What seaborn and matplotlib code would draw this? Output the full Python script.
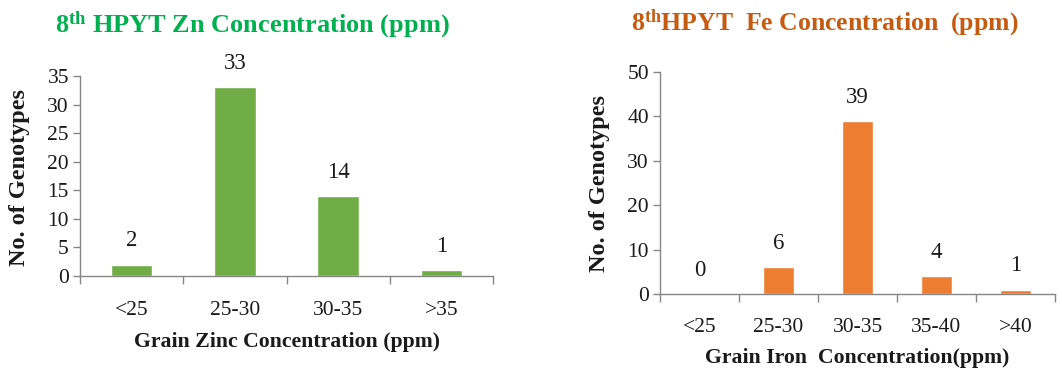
import matplotlib
matplotlib.use("Agg")
import matplotlib.pyplot as plt
from matplotlib.ticker import FixedLocator, NullFormatter
import seaborn as sns
import pandas as pd

zn_categories = ["<25", "25-30", "30-35", ">35"]
zn_counts = [2, 33, 14, 1]
fe_categories = ["<25", "25-30", "30-35", "35-40", ">40"]
fe_counts = [0, 6, 39, 4, 1]

zn_title = r"$\mathbf{8^{th}}$ HPYT Zn Concentration (ppm)"
fe_title = r"$\mathbf{8^{th}}$HPYT  Fe Concentration  (ppm)"
zn_xlabel = "Grain Zinc Concentration (ppm)"
fe_xlabel = "Grain Iron  Concentration(ppm)"
ylabel = "No. of Genotypes"

sns.set_style("white")
plt.rcParams["font.family"] = ["Liberation Serif", "DejaVu Serif"]
plt.rcParams["mathtext.fontset"] = "custom"
plt.rcParams["mathtext.rm"] = "Liberation Serif"
plt.rcParams["mathtext.bf"] = "Liberation Serif:bold"
plt.rcParams["mathtext.it"] = "Liberation Serif:italic"

W, H = 1062, 372
fig = plt.figure(figsize=(W / 100, H / 100), dpi=100)

axis_color = "#868686"
text_color = "#1a1a1a"


def panel(rect, cats, vals, color, ymax, ystep, title, title_color, title_size,
          title_xy, xlabel, xlabel_xy, ylabel_xy, ticklabel_pad):
    ax = fig.add_axes(rect)
    df = pd.DataFrame({"cat": cats, "val": vals})
    sns.barplot(data=df, x="cat", y="val", color=color, width=0.4,
                saturation=1, ax=ax, order=cats)
    n = len(cats)
    ax.set_xlim(-0.5, n - 0.5)
    ax.set_ylim(0, ymax)
    ax.set_yticks(range(0, ymax + 1, ystep))
    ax.set_xlabel("")
    ax.set_ylabel("")
    for s in ["top", "right"]:
        ax.spines[s].set_visible(False)
    for s in ["left", "bottom"]:
        ax.spines[s].set_color(axis_color)
        ax.spines[s].set_linewidth(1.0)
    ax.xaxis.set_minor_locator(FixedLocator([i - 0.5 for i in range(n + 1)]))
    ax.xaxis.set_minor_formatter(NullFormatter())
    ax.tick_params(axis="x", which="major", length=0, pad=ticklabel_pad,
                   labelsize=15.5, labelcolor=text_color)
    ax.tick_params(axis="x", which="minor", length=6, width=1,
                   color=axis_color, direction="out", bottom=True)
    ax.tick_params(axis="y", which="major", length=5, width=1,
                   color=axis_color, direction="out", left=True,
                   labelsize=15.5, labelcolor=text_color, pad=3)
    for p, v in zip(ax.patches, vals):
        ax.annotate(str(v), (p.get_x() + p.get_width() / 2, v),
                    xytext=(0, 17), textcoords="offset points",
                    ha="center", va="center", fontsize=16.5, color=text_color)
    fig.text(title_xy[0] / W, 1 - title_xy[1] / H, title, ha="center",
             va="center", fontsize=title_size, fontweight="bold",
             color=title_color)
    fig.text(xlabel_xy[0] / W, 1 - xlabel_xy[1] / H, xlabel, ha="center",
             va="center", fontsize=15.7, fontweight="bold", color=text_color)
    fig.text(ylabel_xy[0] / W, 1 - ylabel_xy[1] / H, ylabel, ha="center",
             va="center", rotation=90, fontsize=17.5, fontweight="bold",
             color=text_color)
    return ax


panel([80 / W, (H - 276) / H, 413 / W, 200 / H], zn_categories, zn_counts,
      "#70AD47", 35, 5, zn_title, "#00B050", 19, (252, 25),
      zn_xlabel, (287, 342), (20, 178), 18)

panel([660 / W, (H - 294) / H, 395 / W, 222 / H], fe_categories, fe_counts,
      "#ED7D31", 50, 10, fe_title, "#C55A11", 18.5, (825, 23),
      fe_xlabel, (857, 358), (600, 183), 17)

fig.savefig("out.png", dpi=100)
